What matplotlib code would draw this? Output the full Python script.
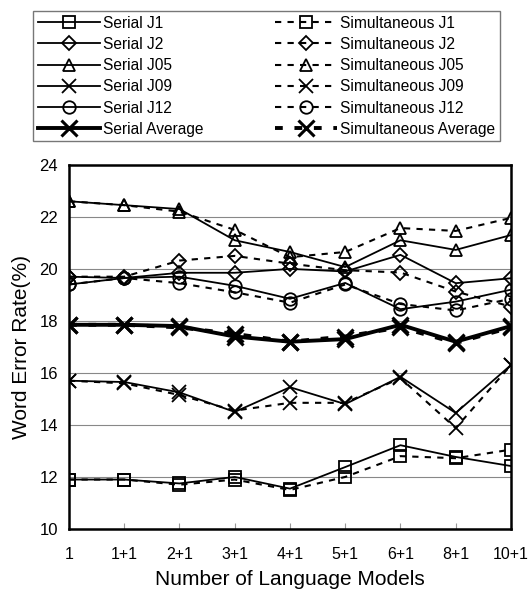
import matplotlib.pyplot as plt
import numpy as np

plt.rcParams['font.family'] = ['Liberation Sans', 'DejaVu Sans']

models = ['1', '1+1', '2+1', '3+1', '4+1', '5+1', '6+1', '8+1', '10+1']

ser_j1 = [11.9, 11.9, 11.75, 12.0, 11.55, 12.38, 13.22, 12.77, 12.42]
sim_j1 = [11.9, 11.9, 11.7, 11.9, 11.5, 12.0, 12.8, 12.72, 13.05]
ser_j2 = [19.7, 19.65, 19.85, 19.85, 20.0, 19.9, 20.54, 19.45, 19.64]
sim_j2 = [19.7, 19.7, 20.32, 20.5, 20.2, 19.95, 19.86, 19.13, 18.55]
ser_j05 = [22.6, 22.45, 22.3, 21.1, 20.65, 20.07, 21.1, 20.73, 21.3]
sim_j05 = [22.6, 22.45, 22.2, 21.5, 20.45, 20.65, 21.57, 21.46, 21.96]
ser_j09 = [15.7, 15.65, 15.25, 14.5, 15.45, 14.8, 15.85, 14.46, 16.3]
sim_j09 = [15.7, 15.6, 15.15, 14.55, 14.85, 14.85, 15.8, 13.88, 16.3]
ser_j12 = [19.4, 19.65, 19.7, 19.35, 18.85, 19.46, 18.45, 18.74, 19.2]
sim_j12 = [19.4, 19.65, 19.45, 19.1, 18.7, 19.4, 18.65, 18.4, 18.85]
ser_avg = [17.85, 17.85, 17.8, 17.4, 17.2, 17.3, 17.85, 17.2, 17.8]
sim_avg = [17.85, 17.85, 17.75, 17.5, 17.2, 17.4, 17.75, 17.15, 17.75]

fig = plt.figure(figsize=(5.28, 5.93), dpi=100)
ax = fig.add_axes([0.1307, 0.108, 0.837, 0.614])
x = np.arange(len(models))

series = [
    (ser_j1, sim_j1, 's', 'J1', 9),
    (ser_j2, sim_j2, 'D', 'J2', 7),
    (ser_j05, sim_j05, '^', 'J05', 9),
    (ser_j09, sim_j09, 'x', 'J09', 10),
    (ser_j12, sim_j12, 'o', 'J12', 9),
]

ser_handles = []
sim_handles = []
for ser, sim, mk, name, ms in series:
    h1, = ax.plot(x, ser, '-', color='black', lw=1.3, marker=mk, ms=ms,
                  mfc='none', mew=1.3, label='Serial ' + name)
    h2, = ax.plot(x, sim, '--', color='black', lw=1.5, dashes=(3, 3), marker=mk,
                  ms=ms, mfc='none', mew=1.3, label='Simultaneous ' + name)
    ser_handles.append(h1)
    sim_handles.append(h2)

h1, = ax.plot(x, ser_avg, '-', color='black', lw=2.8, marker='x', ms=12,
              mew=2.2, label='Serial Average')
h2, = ax.plot(x, sim_avg, '--', color='black', lw=2.8, dashes=(2, 3),
              marker='x', ms=12, mew=2.2, label='Simultaneous Average')
ser_handles.append(h1)
sim_handles.append(h2)

ax.set_xlim(0, len(models) - 1)
ax.set_ylim(10, 24)
ax.set_yticks(np.arange(10, 25, 2))
ax.set_xticks(x)
ax.set_xticklabels(models)
ax.yaxis.grid(True, color='#888888', lw=0.8)
ax.set_axisbelow(True)
ax.tick_params(axis='y', length=0, labelsize=12, pad=8)
ax.tick_params(axis='x', direction='in', length=4, color='#999999',
               labelsize=11.5, pad=13)
for s in ax.spines.values():
    s.set_linewidth(1.8)
ax.set_ylabel('Word Error Rate(%)', fontsize=15, labelpad=6)
ax.set_xlabel('Number of Language Models', fontsize=15, labelpad=6)

leg = fig.legend(ser_handles + sim_handles,
                 [h.get_label() for h in ser_handles + sim_handles],
                 ncol=2, loc='upper left', bbox_to_anchor=(0.0625, 0.9815),
                 frameon=True, fancybox=False, edgecolor='#555555',
                 fontsize=11.2, handlelength=4.0, labelspacing=0.4,
                 borderaxespad=0, borderpad=0.3, columnspacing=4.6,
                 handletextpad=0.2)
leg.get_frame().set_linewidth(1.0)

fig.savefig('out.png', dpi=100)
